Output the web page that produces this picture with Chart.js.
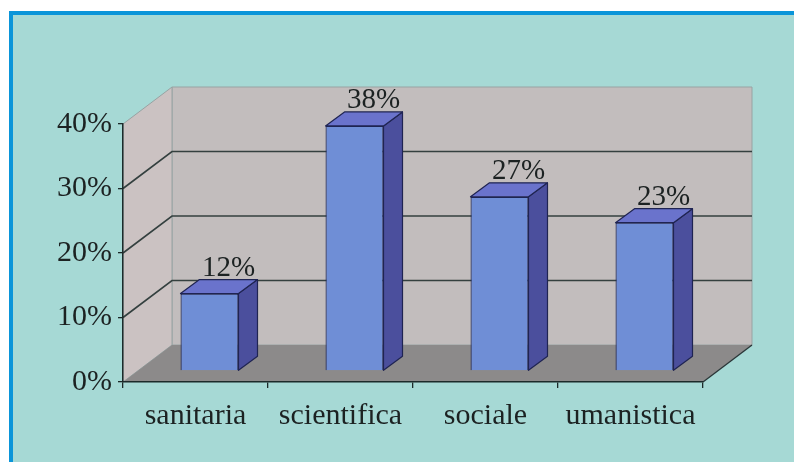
<!DOCTYPE html>
<html><head><meta charset="utf-8">
<script src="https://cdn.jsdelivr.net/npm/chart.js@4.4.1/dist/chart.umd.min.js"></script>
<style>html,body{margin:0;padding:0;background:#fff;}canvas{display:block;}</style>
</head><body>
<canvas id="c" width="794" height="462"></canvas>
<script>
const categories = ['sanitaria', 'scientifica', 'sociale', 'umanistica'];
const values = [12, 38, 27, 23];
const yTicks = [0, 10, 20, 30, 40];

const FONT = "'Liberation Serif', 'Times New Roman', serif";
const DEPTH = {dx: 49, dy: -37};
const BAR_OFF = {dx: 14, dy: -11};
const BAR_SIDE = {dx: 19, dy: -14};

const scene = {
  id: 'scene',
  beforeDraw(chart) {
    const ctx = chart.ctx;
    const W = chart.width, H = chart.height;
    ctx.save();
    ctx.fillStyle = '#ffffff'; ctx.fillRect(0, 0, W, H);
    ctx.fillStyle = '#0a95d9'; ctx.fillRect(9, 11, W - 9, H - 11);
    ctx.fillStyle = '#a6d9d5'; ctx.fillRect(13, 15, W - 13, H - 15);
    const xs = chart.scales.x, ys = chart.scales.y;
    const x0 = xs.left, x1 = xs.right;
    const yTop = ys.getPixelForValue(yTicks[yTicks.length - 1]);
    const yBase = ys.getPixelForValue(0);
    const dx = DEPTH.dx, dy = DEPTH.dy;
    // back wall
    ctx.fillStyle = '#c2bdbd';
    ctx.strokeStyle = '#98a3a3'; ctx.lineWidth = 1;
    ctx.beginPath();
    ctx.rect(x0 + dx, yTop + dy, x1 - x0, yBase - yTop);
    ctx.fill(); ctx.stroke();
    // left wall
    ctx.fillStyle = '#cbc2c2';
    ctx.beginPath();
    ctx.moveTo(x0, yTop); ctx.lineTo(x0 + dx, yTop + dy);
    ctx.lineTo(x0 + dx, yBase + dy); ctx.lineTo(x0, yBase); ctx.closePath();
    ctx.fill(); ctx.stroke();
    // floor
    ctx.fillStyle = '#8c8a8a';
    ctx.beginPath();
    ctx.moveTo(x0, yBase); ctx.lineTo(x1, yBase);
    ctx.lineTo(x1 + dx, yBase + dy); ctx.lineTo(x0 + dx, yBase + dy); ctx.closePath();
    ctx.fill();
    ctx.strokeStyle = '#2a3638'; ctx.lineWidth = 1.3;
    ctx.beginPath(); ctx.moveTo(x1, yBase); ctx.lineTo(x1 + dx, yBase + dy); ctx.stroke();
    // gridlines
    ctx.strokeStyle = '#34403f'; ctx.lineWidth = 1.6;
    yTicks.forEach(v => {
      if (v === 0 || v === yTicks[yTicks.length - 1]) return;
      const y = ys.getPixelForValue(v);
      ctx.beginPath();
      ctx.moveTo(x0, y); ctx.lineTo(x0 + dx, y + dy); ctx.lineTo(x1 + dx, y + dy);
      ctx.stroke();
    });
    ctx.restore();
  },
  beforeDatasetsDraw(chart) {
    chart.ctx.save();
    chart.ctx.translate(BAR_OFF.dx, BAR_OFF.dy);
  },
  afterDatasetsDraw(chart) {
    const ctx = chart.ctx;
    const meta = chart.getDatasetMeta(0);
    const sx = BAR_SIDE.dx, sy = BAR_SIDE.dy;
    meta.data.forEach(el => {
      const p = el.getProps(['x', 'y', 'base', 'width'], true);
      const l = p.x - p.width / 2, r = p.x + p.width / 2;
      ctx.strokeStyle = '#1f2452'; ctx.lineWidth = 1.2; ctx.lineJoin = 'round';
      // side
      ctx.fillStyle = '#4b4f9d';
      ctx.beginPath();
      ctx.moveTo(r, p.y); ctx.lineTo(r + sx, p.y + sy); ctx.lineTo(r + sx, p.base + sy); ctx.lineTo(r, p.base);
      ctx.closePath(); ctx.fill(); ctx.stroke();
      // top
      ctx.fillStyle = '#6a73cc';
      ctx.beginPath();
      ctx.moveTo(l, p.y); ctx.lineTo(l + sx, p.y + sy); ctx.lineTo(r + sx, p.y + sy); ctx.lineTo(r, p.y);
      ctx.closePath(); ctx.fill(); ctx.stroke();
    });
    ctx.restore();
    // value labels
    ctx.save();
    ctx.font = '29px ' + FONT;
    ctx.fillStyle = '#1c2222';
    ctx.textAlign = 'center'; ctx.textBaseline = 'alphabetic';
    meta.data.forEach((el, i) => {
      const p = el.getProps(['x', 'y'], true);
      ctx.fillText(values[i] + '%', p.x + BAR_OFF.dx + sx, p.y + BAR_OFF.dy - 18);
    });
    ctx.restore();
  }
};

new Chart(document.getElementById('c'), {
  type: 'bar',
  data: {
    labels: categories,
    datasets: [{
      data: values,
      backgroundColor: '#6f8ed6',
      borderColor: '#1f2452',
      borderWidth: 1.2,
      categoryPercentage: 1,
      barPercentage: 0.4
    }]
  },
  options: {
    responsive: false,
    animation: false,
    devicePixelRatio: 1,
    layout: {padding: {top: 124, right: 91, bottom: 0, left: 0}},
    plugins: {legend: {display: false}, tooltip: {enabled: false}},
    scales: {
      y: {
        min: 0, max: 40,
        afterFit(s) { s.width = 123; },
        ticks: {stepSize: 10, callback: v => v + '%', font: {family: FONT, size: 30}, color: '#1c2222', padding: 6},
        grid: {drawOnChartArea: false, drawTicks: true, tickLength: 5, color: '#1c2a2a', lineWidth: 1.3},
        border: {display: true, color: '#1c2a2a', width: 1.5}
      },
      x: {
        afterFit(s) { s.height = 80; },
        ticks: {font: {family: FONT, size: 30}, color: '#1c2222', padding: 10},
        grid: {offset: true, drawOnChartArea: false, drawTicks: true, tickLength: 6, color: '#1c2a2a', lineWidth: 1.3},
        border: {display: true, color: '#1c2a2a', width: 1.5}
      }
    }
  },
  plugins: [scene]
});
</script>
</body></html>
